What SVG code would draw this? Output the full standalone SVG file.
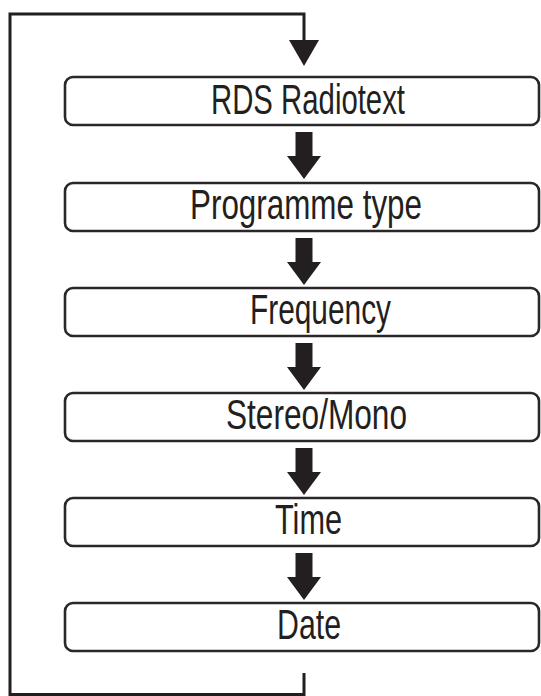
<svg xmlns="http://www.w3.org/2000/svg" xmlns:xlink="http://www.w3.org/1999/xlink" width="541" height="696" viewBox="0 0 541 696">
<style>
.box{fill:#fff;stroke:#2b2728;stroke-width:2.6}
.lbl{font-family:"Liberation Sans Narrow","Liberation Sans",Arial,sans-serif;font-size:42px;fill:#231f20}
.line{fill:none;stroke:#231f20;stroke-width:3}
.head{fill:#231f20}
</style>
<defs>
<path id="thick" d="M295.5,0 H312.5 V24 H321 L304,47 L287,24 H295.5 Z" fill="#231f20"/>
</defs>
<rect width="541" height="696" fill="#fff"/>
<g id="connectors">
<path class="line" d="M304,673 V694.5 H10 V14 H304 V42"/>
<polygon class="head" points="289,40 319,40 304,66"/>
<use xlink:href="#thick" y="132"/>
<use xlink:href="#thick" y="238"/>
<use xlink:href="#thick" y="343"/>
<use xlink:href="#thick" y="448"/>
<use xlink:href="#thick" y="553"/>
</g>
<g id="n1"><rect class="box" x="65" y="77" width="474" height="48" rx="8"/><text class="lbl" x="211" y="114" textLength="194" lengthAdjust="spacingAndGlyphs">RDS Radiotext</text></g>
<g id="n2"><rect class="box" x="65" y="183" width="474" height="48" rx="8"/><text class="lbl" x="190" y="219" textLength="232" lengthAdjust="spacingAndGlyphs">Programme type</text></g>
<g id="n3"><rect class="box" x="65" y="288" width="474" height="48" rx="8"/><text class="lbl" x="250" y="324" textLength="141" lengthAdjust="spacingAndGlyphs">Frequency</text></g>
<g id="n4"><rect class="box" x="65" y="393" width="474" height="48" rx="8"/><text class="lbl" x="226" y="429" textLength="181" lengthAdjust="spacingAndGlyphs">Stereo/Mono</text></g>
<g id="n5"><rect class="box" x="65" y="498" width="474" height="48" rx="8"/><text class="lbl" x="275" y="534" textLength="67" lengthAdjust="spacingAndGlyphs">Time</text></g>
<g id="n6"><rect class="box" x="65" y="603" width="474" height="48" rx="8"/><text class="lbl" x="277" y="639" textLength="64" lengthAdjust="spacingAndGlyphs">Date</text></g>
</svg>
